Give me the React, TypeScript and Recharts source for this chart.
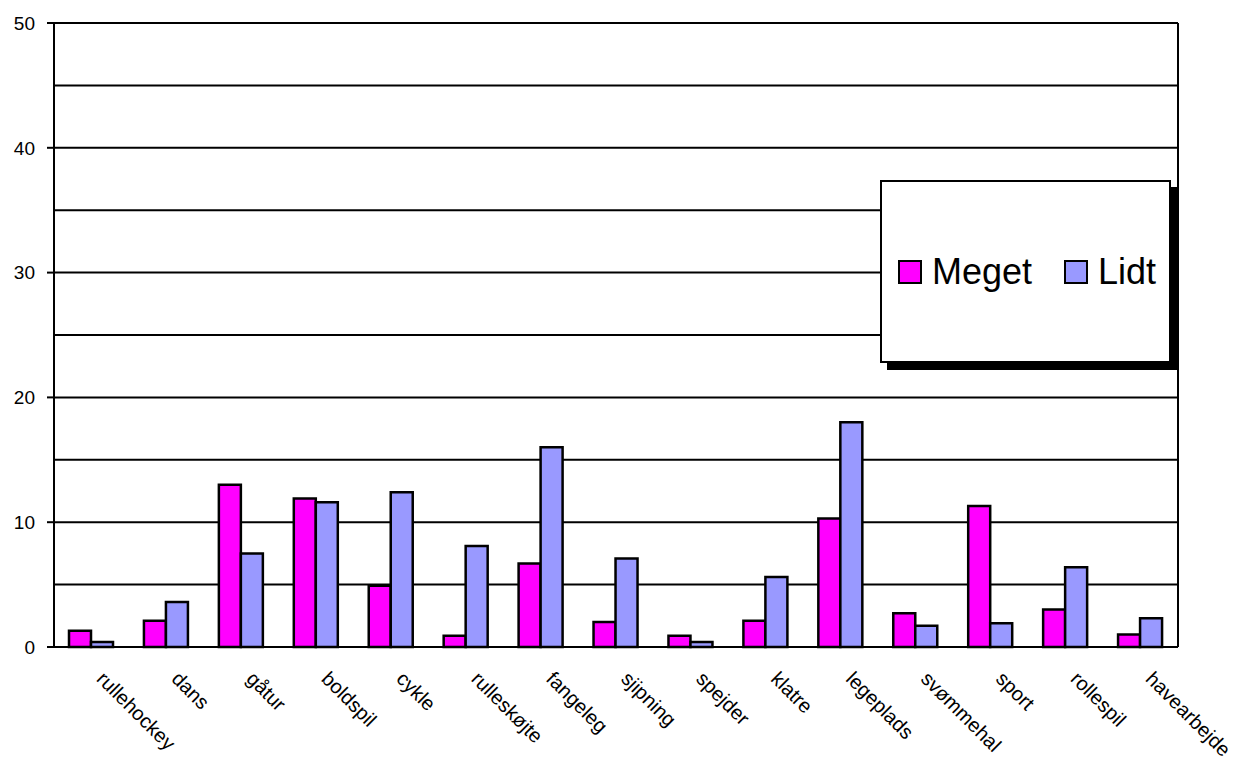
import React from 'react';
import {
  BarChart,
  Bar,
  XAxis,
  YAxis,
  CartesianGrid
} from 'recharts';

const activities = [
  'rullehockey', 'dans', 'gåtur', 'boldspil', 'cykle', 'rulleskøjte', 'fangeleg',
  'sjipning', 'spejder', 'klatre', 'legeplads', 'svømmehal', 'sport', 'rollespil', 'havearbejde'
];
const meget = [1.3, 2.1, 13.0, 11.9, 4.9, 0.9, 6.7, 2.0, 0.9, 2.1, 10.3, 2.7, 11.3, 3.0, 1.0];
const lidt = [0.4, 3.6, 7.5, 11.6, 12.4, 8.1, 16.0, 7.1, 0.4, 5.6, 18.0, 1.7, 1.9, 6.4, 2.3];

const yTicks = [0, 10, 20, 30, 40, 50];
const gridValues = [5, 10, 15, 20, 25, 30, 35, 40, 45, 50];

const FONT = '"Liberation Sans", Arial, sans-serif';
const MEGET_COLOR = '#FF00FF';
const LIDT_COLOR = '#9999FF';

const data = activities.map((name, i) => ({ name, Meget: meget[i], Lidt: lidt[i] }));

// rotated category labels, reading down to the right
const XTick = ({ x, y, payload }: any) => {
  const tx = x + 4;
  const ty = y + 25;
  return (
    <text
      x={tx}
      y={ty}
      transform={`rotate(45, ${tx}, ${ty})`}
      textAnchor='start'
      fontSize={20}
      fontFamily={FONT}
      fill='#000'
    >
      {payload.value}
    </text>
  );
};

const LegendBox = () => (
  <div
    style={{
      position: 'absolute',
      left: 880,
      top: 180,
      boxSizing: 'border-box',
      width: 291,
      height: 183,
      border: '2px solid #000',
      background: '#fff',
      boxShadow: '7px 7px 0 #000',
      display: 'flex',
      alignItems: 'center',
      paddingLeft: 16,
      fontFamily: FONT,
      fontSize: 36,
      color: '#000'
    }}
  >
    {[
      { label: 'Meget', color: MEGET_COLOR },
      { label: 'Lidt', color: LIDT_COLOR }
    ].map((item, i) => (
      <div key={item.label} style={{ display: 'flex', alignItems: 'center', marginLeft: i === 0 ? 0 : 32 }}>
        <span
          style={{
            boxSizing: 'border-box',
            display: 'inline-block',
            width: 24,
            height: 24,
            background: item.color,
            border: '2px solid #000',
            marginRight: 10
          }}
        />
        <span style={{ lineHeight: '36px' }}>{item.label}</span>
      </div>
    ))}
  </div>
);

export default function App() {
  return (
    <div style={{ position: 'absolute', left: 0, top: 0, width: 1240, height: 764, background: '#fff' }}>
      <BarChart
        width={1240}
        height={764}
        data={data}
        margin={{ top: 23, right: 62, bottom: 0, left: 0 }}
        barSize={22}
        barGap={0}
      >
        <CartesianGrid
          vertical={false}
          stroke='#000'
          strokeWidth={2}
          horizontalValues={gridValues}
        />
        {/* right-hand frame line of the plot area */}
        <CartesianGrid
          horizontal={false}
          stroke='#000'
          strokeWidth={2}
          verticalCoordinatesGenerator={({ offset }: any) => [offset.left + offset.width]}
        />
        <XAxis
          dataKey='name'
          height={117}
          tickLine={false}
          axisLine={{ stroke: '#000', strokeWidth: 2 }}
          tick={<XTick />}
          interval={0}
        />
        <YAxis
          width={54}
          domain={[0, 50]}
          ticks={yTicks}
          tickSize={7}
          tickMargin={12}
          tickLine={{ stroke: '#000', strokeWidth: 2 }}
          axisLine={{ stroke: '#000', strokeWidth: 2 }}
          tick={{ fill: '#000', fontSize: 19, fontFamily: FONT }}
        />
        <Bar dataKey='Meget' fill={MEGET_COLOR} stroke='#000' strokeWidth={2.5} isAnimationActive={false} />
        <Bar dataKey='Lidt' fill={LIDT_COLOR} stroke='#000' strokeWidth={2.5} isAnimationActive={false} />
      </BarChart>
      <LegendBox />
    </div>
  );
}
